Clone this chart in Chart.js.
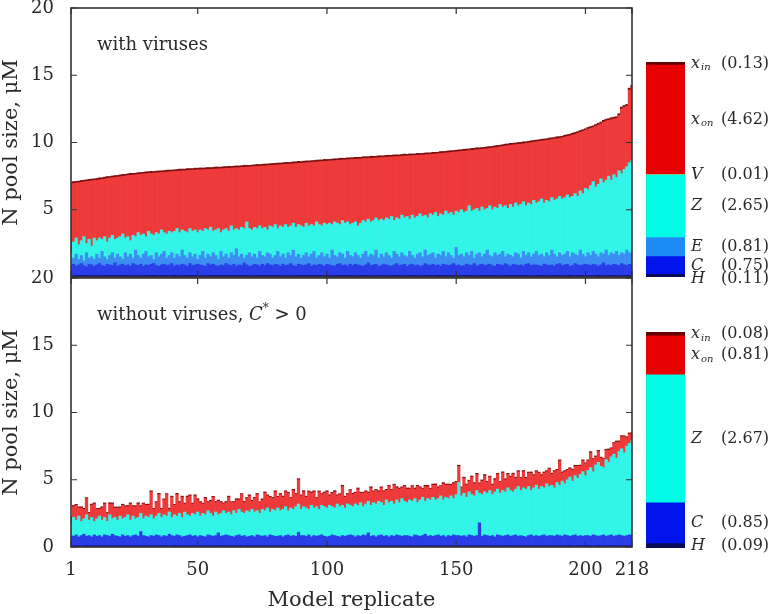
<!DOCTYPE html>
<html>
<head>
<meta charset="utf-8">
<script src="https://cdn.jsdelivr.net/npm/chart.js@4.4.1/dist/chart.umd.min.js"></script>
<style>
  body { margin: 0; background: #fff; }
  #fig { position: relative; width: 772px; height: 614px; }
  canvas { position: absolute; }
</style>
</head>
<body>
<div id="fig">
  <canvas id="topChart" width="650" height="290" style="left:0;top:0"></canvas>
  <canvas id="botChart" width="650" height="344" style="left:0;top:270px"></canvas>
  <canvas id="topKey" width="142" height="250" style="left:630px;top:40px"></canvas>
  <canvas id="botKey" width="142" height="270" style="left:630px;top:300px"></canvas>
</div>
<script>
// replicates 1..218, sorted by total N in the "with viruses" run
const reps = Array.from({ length: 218 }, (_, i) => i + 1);
const xTickVals = [1, 50, 100, 150, 200, 218];

// ---- with viruses: level (top edge) of each layer, in uM ----
const topH = [
  .11,.10,.12,.11,.10,.11,.12,.10,.11,.11, .12,.11,.10,.11,.12,.11,.10,.12,.11,.10,
  .11,.12,.11,.10,.11,.12,.11,.10,.11,.12, .10,.11,.12,.11,.10,.11,.11,.12,.10,.11,
  .12,.10,.11,.11,.12,.10,.11,.12,.11,.10, .11,.11,.10,.12,.11,.10,.12,.11,.11,.12,
  .10,.12,.11,.11,.10,.12,.11,.10,.12,.11, .11,.10,.12,.10,.11,.11,.12,.11,.10,.11,
  .12,.11,.11,.10,.12,.11,.10,.11,.12,.10, .11,.12,.10,.11,.11,.10,.12,.11,.10,.12,
  .10,.11,.11,.12,.10,.11,.11,.10,.12,.11, .11,.10,.12,.11,.11,.12,.10,.11,.11,.10,
  .12,.11,.10,.11,.12,.10,.11,.12,.10,.11, .11,.12,.11,.10,.11,.11,.10,.12,.11,.12,
  .10,.11,.12,.11,.10,.12,.11,.11,.10,.11, .11,.10,.11,.12,.11,.10,.12,.10,.11,.12,
  .12,.11,.10,.11,.12,.11,.11,.10,.12,.11, .11,.12,.11,.10,.11,.12,.10,.11,.11,.10,
  .10,.11,.12,.11,.10,.11,.12,.11,.10,.12, .11,.10,.11,.12,.11,.10,.11,.12,.11,.11,
  .12,.11,.10,.11,.12,.11,.10,.11,.12,.11, .11,.12,.11,.10,.11,.12,.11,.12
];
const topC = [
  .85,.95,.80,.90,1.0,.85,.75,.95,.90,.80, .90,1.0,.85,.80,.95,.90,.85,1.05,.80,.90,
  .95,.85,.90,.80,1.0,.90,.85,.95,.80,.90, .85,.95,1.0,.85,.80,.90,.95,.85,.90,1.0,
  .80,.90,.85,.95,.90,.80,1.0,.85,.90,.95, .90,.85,.80,1.0,.90,.95,.85,.80,.90,.85,
  1.0,.90,.85,.95,.80,.90,.85,1.05,.90,.80, .85,.95,.90,.80,.95,.85,1.0,.90,.85,.95,
  .90,.80,.95,.85,.90,1.0,.85,.80,.95,.90, .85,.90,1.0,.80,.90,.85,.95,.90,.80,.95,
  .90,.85,.80,.95,1.0,.85,.90,.80,.95,.85, .95,.90,.85,.80,.90,1.05,.85,.90,.95,.80,
  .85,.95,.90,.85,.80,.90,1.0,.85,.90,.95, .80,.90,.95,.85,.90,.80,.85,1.0,.90,.85,
  .95,.85,.90,.80,.95,.90,.85,.90,1.0,.85, .90,.80,.85,.95,.90,.85,1.0,.80,.90,.95,
  .85,.90,.95,.85,.80,.95,.90,.85,1.0,.90, .80,.95,.90,.85,.90,.80,.95,1.0,.85,.90,
  .90,.85,.80,.95,.90,.85,.90,.80,.95,1.0, .85,.90,.95,.80,.85,1.0,.90,.85,.90,.95,
  .90,.85,.95,.90,.80,.90,1.05,.85,.90,.85, .95,.90,.85,1.0,.90,.85,.95,.90
];
const topE = [
  1.1,1.4,1.7,1.3,1.6,1.2,1.8,1.4,1.5,1.3, 1.7,1.4,1.9,1.5,1.3,1.6,1.8,1.4,1.7,1.5,
  1.3,1.8,1.5,1.7,1.4,2.0,1.6,1.4,1.7,1.9, 1.5,1.6,1.3,1.8,1.5,1.7,1.9,1.4,1.6,1.8,
  1.4,1.7,1.5,2.0,1.6,1.4,1.8,1.5,1.7,1.3, 1.6,1.9,1.4,1.7,1.5,1.8,1.6,1.3,1.9,1.5,
  1.7,1.4,1.8,1.6,2.1,1.5,1.7,1.4,1.6,1.8, 1.5,1.7,1.4,1.9,1.6,1.5,1.8,1.7,1.4,1.6,
  1.9,1.5,1.7,1.4,1.8,1.6,2.0,1.5,1.7,1.4, 1.6,1.8,1.5,1.7,1.9,1.4,1.6,1.8,1.5,1.7,
  1.4,2.0,1.6,1.5,1.8,1.7,1.4,1.9,1.6,1.5, 1.8,1.6,1.4,1.7,1.9,1.5,1.7,1.6,2.0,1.4,
  1.7,1.5,1.8,1.6,1.4,1.9,1.7,1.5,1.8,1.6, 1.5,1.9,1.6,1.4,1.7,1.8,1.5,2.0,1.6,1.7,
  1.8,1.4,1.7,1.6,1.9,1.5,1.8,1.6,1.4,2.2, 1.6,1.7,1.5,1.8,1.6,1.9,1.4,1.7,1.8,1.5,
  1.7,2.0,1.6,1.5,1.8,1.6,1.7,1.9,1.5,1.7, 1.6,1.5,1.8,1.7,1.4,1.9,1.6,1.8,1.5,1.7,
  1.9,1.6,1.7,1.5,1.8,1.6,2.0,1.7,1.5,1.8, 1.6,1.7,1.9,1.5,1.8,1.7,1.6,2.0,1.7,1.5,
  1.8,1.6,1.9,1.7,1.5,1.8,1.7,2.0,1.6,1.8, 1.7,1.9,1.6,1.8,1.7,2.0,1.8,1.7
];
const topZ = [
  1.8,2.6,2.9,2.4,2.7,3.0,2.5,2.8,2.3,2.9, 2.7,2.9,2.8,3.0,2.6,2.9,3.1,2.8,2.9,3.0,
  3.2,2.9,3.0,2.7,3.1,3.0,3.3,3.1,3.2,3.0, 3.4,3.2,3.1,3.3,3.2,3.5,3.3,3.2,3.4,3.3,
  3.4,3.6,3.3,3.5,3.4,3.3,3.6,3.4,3.5,3.3, 3.5,3.4,3.6,3.5,3.7,3.4,3.5,3.6,3.3,3.5,
  3.6,3.4,3.8,3.5,3.6,3.5,3.7,3.6,4.1,3.6, 3.5,3.7,3.6,3.8,3.6,3.7,3.5,3.8,3.7,3.9,
  3.6,3.8,3.7,3.9,3.7,3.8,4.0,3.7,3.9,3.8, 3.7,4.0,3.8,3.9,3.8,4.1,3.9,3.8,4.0,3.9,
  4.0,3.9,4.1,4.0,3.9,4.2,4.0,4.1,3.9,4.0, 4.1,3.8,4.0,4.2,4.1,4.3,4.1,4.2,4.4,4.2,
  4.3,4.2,4.4,4.3,4.5,4.2,4.4,4.3,4.6,4.4, 4.5,4.3,4.6,4.4,4.5,4.7,4.5,4.6,4.4,4.7,
  4.6,4.8,4.5,4.7,4.6,4.9,4.7,4.8,4.6,4.9, 4.8,5.0,4.8,4.9,5.3,4.9,5.0,5.1,4.9,5.2,
  5.0,5.1,5.3,5.0,5.2,5.1,5.4,5.2,5.3,5.1, 5.4,5.2,5.5,5.3,5.4,5.6,5.3,5.5,5.4,5.7,
  5.5,5.6,5.8,5.5,5.7,5.6,5.9,5.7,5.8,6.0, 5.8,5.9,6.1,5.9,6.0,6.2,6.0,6.4,6.2,6.6,
  6.5,6.8,7.1,6.7,6.9,7.3,7.0,7.2,7.5,7.2, 7.6,7.4,7.9,7.7,8.0,8.2,8.5,8.7
];
const topXon = [
  6.85,6.95,6.98,7.01,7.04,7.07,7.1,7.12,7.15,7.18, 7.2,7.23,7.26,7.29,7.32,7.35,7.38,7.4,7.43,7.46,
  7.48,7.51,7.54,7.56,7.58,7.6,7.62,7.64,7.66,7.68, 7.7,7.71,7.72,7.74,7.75,7.77,7.78,7.8,7.82,7.83,
  7.85,7.86,7.88,7.89,7.9,7.91,7.93,7.94,7.95,7.96, 7.97,7.98,7.99,8.0,8.01,8.02,8.03,8.04,8.05,8.06,
  8.08,8.09,8.1,8.11,8.12,8.13,8.15,8.16,8.17,8.18, 8.2,8.21,8.22,8.24,8.25,8.26,8.28,8.29,8.3,8.32,
  8.33,8.35,8.36,8.38,8.39,8.4,8.42,8.43,8.45,8.46, 8.48,8.49,8.51,8.52,8.54,8.55,8.57,8.58,8.6,8.61,
  8.62,8.64,8.65,8.67,8.68,8.7,8.71,8.72,8.73,8.75, 8.76,8.77,8.78,8.8,8.81,8.82,8.83,8.84,8.86,8.87,
  8.88,8.89,8.9,8.92,8.93,8.94,8.95,8.96,8.98,8.99, 9.0,9.01,9.02,9.03,9.05,9.06,9.07,9.08,9.1,9.11,
  9.13,9.14,9.16,9.18,9.2,9.22,9.24,9.26,9.28,9.3, 9.32,9.34,9.36,9.38,9.4,9.42,9.44,9.46,9.48,9.5,
  9.52,9.54,9.56,9.59,9.62,9.65,9.68,9.71,9.74,9.77, 9.8,9.82,9.84,9.86,9.88,9.9,9.93,9.96,9.99,10.02,
  10.05,10.08,10.1,10.13,10.16,10.19,10.22,10.25,10.28,10.31, 10.35,10.4,10.45,10.5,10.55,10.62,10.68,10.75,10.82,10.9,
  10.98,11.05,11.12,11.2,11.3,11.4,11.5,11.6,11.65,11.7, 11.75,11.8,12.0,12.5,12.6,12.7,13.9,14.1
];
// x_in: thickness stacked on top of x_on
const topXin = [
  .15,.14,.13,.12,.14,.13,.12,.14,.13,.12, .13,.14,.12,.13,.15,.12,.13,.14,.12,.13,
  .14,.12,.13,.15,.13,.12,.14,.13,.12,.14, .13,.15,.12,.13,.14,.12,.13,.14,.13,.12,
  .12,.13,.14,.13,.12,.15,.13,.12,.14,.13, .14,.12,.13,.14,.12,.13,.15,.13,.12,.14,
  .13,.14,.12,.13,.14,.13,.12,.15,.13,.12, .12,.13,.15,.12,.13,.14,.12,.13,.14,.13,
  .14,.12,.13,.14,.13,.12,.14,.13,.15,.12, .13,.14,.12,.13,.12,.14,.13,.12,.14,.13,
  .12,.13,.14,.12,.15,.13,.12,.14,.13,.12, .14,.13,.12,.14,.13,.12,.15,.13,.12,.14,
  .13,.12,.14,.13,.12,.14,.13,.12,.13,.15, .12,.14,.13,.12,.14,.13,.12,.14,.13,.12,
  .14,.13,.12,.15,.13,.12,.14,.13,.12,.13, .13,.12,.14,.13,.12,.14,.13,.15,.12,.13,
  .12,.14,.13,.12,.14,.13,.12,.13,.14,.12, .14,.13,.12,.14,.13,.15,.12,.13,.14,.13,
  .13,.12,.14,.13,.12,.14,.13,.12,.15,.13, .12,.14,.13,.12,.14,.13,.12,.14,.13,.12,
  .14,.13,.12,.14,.13,.12,.15,.13,.12,.14, .13,.12,.14,.13,.15,.13,.14,.15
];

// ---- without viruses, C* > 0 ----
const botH = [
  .09,.08,.10,.09,.08,.09,.10,.09,.08,.09, .10,.09,.08,.09,.10,.09,.08,.10,.09,.08,
  .09,.10,.09,.08,.09,.10,.09,.08,.09,.10, .08,.09,.10,.09,.08,.09,.09,.10,.08,.09,
  .10,.08,.09,.09,.10,.08,.09,.10,.09,.08, .09,.09,.08,.10,.09,.08,.10,.09,.09,.10,
  .08,.10,.09,.09,.08,.10,.09,.08,.10,.09, .09,.08,.10,.08,.09,.09,.10,.09,.08,.09,
  .10,.09,.09,.08,.10,.09,.08,.09,.10,.08, .09,.10,.08,.09,.09,.08,.10,.09,.08,.10,
  .08,.09,.09,.10,.08,.09,.09,.08,.10,.09, .09,.08,.10,.09,.09,.10,.08,.09,.09,.08,
  .10,.09,.08,.09,.10,.08,.09,.10,.08,.09, .09,.10,.09,.08,.09,.09,.08,.10,.09,.10,
  .08,.09,.10,.09,.08,.10,.09,.09,.08,.09, .09,.08,.09,.10,.09,.08,.10,.08,.09,.10,
  .10,.09,.08,.09,.10,.09,.09,.08,.10,.09, .09,.10,.09,.08,.09,.10,.08,.09,.09,.08,
  .08,.09,.10,.09,.08,.09,.10,.09,.08,.10, .09,.08,.09,.10,.09,.08,.09,.10,.09,.09,
  .10,.09,.08,.09,.10,.09,.08,.09,.10,.09, .09,.10,.09,.08,.09,.10,.09,.10
];
const botC = [
  .85,.80,.90,.75,.85,.95,.80,.85,.75,.90, .80,.85,.75,.90,.85,.80,.95,.85,.80,.75,
  .90,.80,.85,.75,.85,.90,.80,1.15,.85,.80, .75,.85,.80,.90,.85,.75,.85,.80,.95,.85,
  .80,.90,.85,.75,.80,.85,.90,.80,.85,.75, .85,.80,.75,.90,.85,.80,.85,1.05,.80,.85,
  .90,.85,.80,.75,.85,.90,.80,.85,.75,.80, .85,.75,.90,.85,.80,.85,.75,.90,.85,.80,
  .80,.85,.75,.85,.90,.80,.85,.80,1.1,.85, .85,.80,.90,.75,.85,.80,.85,.90,.80,.75,
  .80,.90,.85,.80,.75,.85,.80,.85,.90,.85, .75,.85,.80,.90,.85,1.05,.80,.85,.75,.85,
  .90,.80,.85,.75,.85,.80,.90,.85,.80,.85, .85,.80,.75,.90,.85,.80,.85,.95,.80,.85,
  .80,.85,.90,.80,.85,.75,.85,.80,.90,.85, .85,.80,.85,.75,.90,.85,.80,.85,1.8,.80,
  .90,.85,.80,.85,.75,.90,.85,.80,.85,.90, .80,.85,.90,.80,.85,.80,.75,.85,.90,.80,
  .85,.80,.85,.90,.80,.85,.85,.80,.90,.85, .80,.90,.85,.80,.85,.90,.80,.85,.80,.85,
  .85,.80,.90,.85,.80,.85,.90,.80,.85,.90, .80,.85,.90,.85,.80,.85,.90,.85
];
const botZ = [
  1.8,2.2,2.0,2.3,1.9,2.1,2.4,2.0,2.2,1.9, 2.1,2.3,2.0,2.2,1.9,2.4,2.1,2.2,2.0,2.3,
  2.1,2.2,2.4,2.0,2.3,2.1,2.2,2.5,2.1,2.3, 2.2,2.4,2.1,2.3,2.5,2.2,2.4,2.3,2.6,2.2,
  2.4,2.3,2.5,2.2,2.6,2.4,2.3,2.5,2.4,2.6, 2.3,2.5,2.4,2.7,2.5,2.3,2.6,2.4,2.5,2.7,
  2.5,2.6,2.4,2.7,2.5,2.8,2.6,2.5,2.7,2.6, 2.8,2.6,2.7,2.5,2.8,2.7,2.9,2.6,2.8,2.7,
  2.9,2.7,2.8,3.0,2.7,2.9,2.8,3.0,3.2,2.8, 3.0,2.9,2.8,3.1,2.9,3.0,2.8,3.1,3.0,2.9,
  3.1,3.0,2.9,3.2,3.0,3.1,2.9,3.2,3.1,3.0, 3.2,3.1,3.3,3.0,3.2,3.4,3.1,3.3,3.2,3.4,
  3.3,3.1,3.5,3.3,3.4,3.2,3.5,3.3,3.6,3.4, 3.3,3.5,3.4,3.6,3.3,3.5,3.7,3.4,3.6,3.5,
  3.7,3.5,3.6,3.8,3.5,3.7,3.6,3.8,3.6,3.9, 4.8,3.8,4.0,3.7,4.1,3.9,3.8,4.2,4.0,3.9,
  4.1,4.0,4.2,3.9,4.1,4.3,4.0,4.2,4.1,4.4, 4.2,4.1,4.3,4.5,4.2,4.4,4.3,4.5,4.2,4.4,
  4.6,4.3,4.5,4.4,4.7,4.5,4.6,4.4,4.8,4.6, 4.9,4.7,5.0,5.2,4.9,5.3,5.1,5.4,5.6,5.3,
  5.7,5.9,5.6,6.1,6.3,6.0,5.9,6.5,6.3,6.7, 6.9,6.6,7.1,7.3,7.0,7.5,7.7,7.9
];
const botXon = [
  2.2,3.0,3.1,2.9,2.9,2.8,3.6,2.5,3.1,3.2, 2.8,2.8,2.9,3.2,2.5,3.2,3.2,2.9,2.9,2.9,
  3.1,3.0,3.0,3.2,3.0,3.0,3.2,3.0,3.2,3.1, 3.1,4.1,2.8,3.3,3.9,2.8,3.5,3.9,2.8,3.7,
  3.1,3.9,3.3,3.7,3.2,3.7,3.8,3.2,3.8,3.5, 3.3,3.2,3.6,3.3,3.4,3.7,3.3,3.4,3.3,3.2,
  3.3,3.7,3.3,3.3,3.5,3.5,3.9,3.3,3.6,3.8, 3.4,3.6,3.9,3.3,3.5,4.0,3.8,3.7,3.6,4.1,
  3.7,3.9,3.7,4.1,4.0,3.6,4.2,3.9,5.0,3.8, 4.1,3.7,4.1,4.0,4.1,3.6,4.1,3.9,4.0,4.1,
  3.8,4.0,4.1,3.8,3.9,4.5,3.7,3.9,4.2,3.9, 4.0,4.3,4.0,4.0,4.1,4.0,4.4,4.1,4.2,4.1,
  4.4,4.1,4.2,4.5,4.2,4.6,4.4,4.3,4.4,4.5, 4.3,4.3,4.5,4.3,4.5,4.4,4.3,4.5,4.5,4.3,
  4.6,4.6,4.4,4.5,4.7,4.6,4.6,4.6,4.7,4.8, 6.0,4.4,5.1,4.6,4.9,5.2,4.7,5.4,4.7,4.9,
  5.3,4.8,5.2,4.6,5.0,5.4,4.8,5.5,5.0,5.4, 5.2,5.4,5.1,5.6,5.1,5.6,5.1,5.5,5.5,5.3,
  5.6,5.5,5.3,5.5,5.6,5.8,5.4,5.6,5.7,6.4, 5.5,5.6,5.7,5.8,5.7,6.0,6.0,6.0,6.4,6.2,
  6.4,7.0,6.5,6.7,7.1,6.6,6.5,7.2,7.2,7.3, 7.7,7.8,7.8,8.2,8.2,8.1,8.4,8.4
];
const botXin = [
  .08,.09,.07,.08,.09,.08,.07,.08,.09,.08, .07,.08,.09,.08,.07,.09,.08,.08,.07,.09,
  .08,.07,.09,.08,.08,.07,.09,.08,.07,.08, .09,.08,.07,.08,.09,.08,.08,.07,.09,.08,
  .07,.09,.08,.08,.07,.09,.08,.07,.08,.09, .08,.07,.09,.08,.08,.07,.08,.09,.08,.07,
  .09,.08,.07,.08,.09,.08,.07,.09,.08,.08, .08,.09,.08,.07,.08,.09,.08,.07,.09,.08,
  .07,.08,.09,.08,.07,.08,.09,.08,.08,.07, .09,.08,.07,.09,.08,.08,.07,.08,.09,.08,
  .08,.07,.09,.08,.07,.09,.08,.08,.07,.09, .08,.09,.08,.07,.08,.09,.08,.07,.08,.09,
  .07,.08,.09,.08,.08,.07,.09,.08,.07,.08, .09,.08,.07,.09,.08,.08,.07,.09,.08,.07,
  .08,.09,.08,.07,.09,.08,.08,.07,.09,.08, .08,.07,.09,.08,.07,.08,.09,.08,.07,.09,
  .09,.08,.07,.08,.09,.08,.07,.09,.08,.08, .07,.09,.08,.08,.07,.09,.08,.07,.08,.09,
  .08,.07,.09,.08,.08,.07,.09,.08,.07,.08, .09,.08,.07,.09,.08,.08,.07,.09,.08,.07,
  .08,.09,.08,.07,.09,.08,.08,.07,.09,.08, .07,.08,.09,.08,.07,.09,.08,.08
];

// ---- side keys: mean pool sizes (uM), bottom to top ----
const topKeyNames = ['H', 'C', 'E', 'Z', 'V', 'x', 'x'];
const topKeySubs = ['', '', '', '', '', 'on', 'in'];
const topKeyMeans = [0.11, 0.75, 0.81, 2.65, 0.01, 4.62, 0.13];
const botKeyNames = ['H', 'C', 'Z', 'x', 'x'];
const botKeySubs = ['', '', '', 'on', 'in'];
const botKeyMeans = [0.09, 0.85, 2.67, 0.81, 0.08];

Chart.defaults.font.family = "'DejaVu Serif', serif";
Chart.defaults.color = '#2a2a2a';

// box round the plot area, inward ticks and the panel caption
const frame = {
  id: 'frame',
  afterDatasetsDraw(chart, args, o) {
    const { ctx, chartArea: a, scales: { x, y } } = chart;
    ctx.save();
    ctx.strokeStyle = '#333';
    ctx.lineWidth = 1.2;
    ctx.beginPath();
    xTickVals.forEach(v => {
      const px = x.getPixelForValue(v);
      ctx.moveTo(px, a.top); ctx.lineTo(px, a.top + 6);
      ctx.moveTo(px, a.bottom); ctx.lineTo(px, a.bottom - 6);
    });
    y.ticks.forEach(t => {
      const py = y.getPixelForValue(t.value);
      ctx.moveTo(a.left, py); ctx.lineTo(a.left + 6, py);
      ctx.moveTo(a.right, py); ctx.lineTo(a.right - 6, py);
    });
    ctx.stroke();
    ctx.lineWidth = 1.6;
    ctx.strokeRect(a.left, a.top, a.right - a.left, a.bottom - a.top);

    let cx = a.left + 26;
    const cy = a.top + 37;
    ctx.fillStyle = '#2a2a2a';
    ctx.textBaseline = 'middle';
    o.caption.forEach(([txt, style]) => {
      let dy = 0;
      if (style === 'italic') ctx.font = "italic 18px 'DejaVu Serif'";
      else if (style === 'sup') { ctx.font = "12px 'DejaVu Serif'"; dy = -6; }
      else ctx.font = "18px 'DejaVu Serif'";
      ctx.fillText(txt, cx, cy + dy);
      cx += ctx.measureText(txt).width;
    });
    ctx.restore();
  }
};

// keep tick labels from pushing the plot area in
function noOverflow(s) {
  s.paddingTop = 0; s.paddingBottom = 0; s.paddingLeft = 0; s.paddingRight = 0;
}

function drawPanel(id, layers, showX, hideZero, caption) {
  new Chart(document.getElementById(id), {
    type: 'bar',
    data: {
      labels: reps,
      datasets: layers.map(l => ({
        label: l.name, data: l.data, backgroundColor: l.color,
        stack: l.stack, order: l.order, grouped: false,
        barPercentage: 1, categoryPercentage: 1, borderWidth: 0, clip: 0
      }))
    },
    options: {
      responsive: false, animation: false, events: [],
      layout: { autoPadding: false, padding: { top: 8, right: 18, bottom: showX ? 0 : 13, left: 0 } },
      plugins: { legend: { display: false }, tooltip: { enabled: false }, frame: { caption } },
      scales: {
        x: {
          type: 'linear', min: 1, max: 218, offset: false, display: showX,
          grid: { display: false }, border: { display: false },
          afterBuildTicks: s => { s.ticks = xTickVals.map(v => ({ value: v })); },
          afterFit: s => { noOverflow(s); if (showX) s.height = 67; },
          ticks: { padding: 5, font: { size: 18 }, autoSkip: false, maxRotation: 0 },
          title: { display: true, text: 'Model replicate', font: { size: 21, lineHeight: 1.1 }, padding: { top: 0, bottom: 2 } }
        },
        y: {
          stacked: true, min: 0, max: 20,
          grid: { display: false }, border: { display: false },
          afterFit: s => { noOverflow(s); s.width = 71; },
          ticks: { stepSize: 5, padding: 9, font: { size: 18 }, callback: v => (hideZero && v === 0) ? '' : v },
          title: { display: true, text: 'N pool size, μM', font: { size: 21, lineHeight: 1.1 }, padding: { top: 0, bottom: 0 } }
        }
      }
    },
    plugins: [frame]
  });
}

const red = 'rgb(238,58,58)', darkRed = 'rgb(125,15,15)', cyan = 'rgb(50,245,232)';
const lightBlue = 'rgb(60,142,242)', blue = 'rgb(42,62,232)', navy = 'rgb(20,20,140)';

drawPanel('topChart', [
  { name: 'H', data: topH, color: navy, stack: 'h', order: 1 },
  { name: 'C', data: topC, color: blue, stack: 'c', order: 2 },
  { name: 'E', data: topE, color: lightBlue, stack: 'e', order: 3 },
  { name: 'Z', data: topZ, color: cyan, stack: 'z', order: 4 },
  { name: 'x_on', data: topXon, color: red, stack: 'x', order: 5 },
  { name: 'x_in', data: topXin, color: darkRed, stack: 'x', order: 5 }
], false, true, [['with viruses', '']]);

drawPanel('botChart', [
  { name: 'H', data: botH, color: navy, stack: 'h', order: 1 },
  { name: 'C', data: botC, color: blue, stack: 'c', order: 2 },
  { name: 'Z', data: botZ, color: cyan, stack: 'z', order: 4 },
  { name: 'x_on', data: botXon, color: red, stack: 'x', order: 5 },
  { name: 'x_in', data: botXin, color: darkRed, stack: 'x', order: 5 }
], true, false, [['without viruses, ', ''], ['C', 'italic'], ['*', 'sup'], [' > 0', '']]);

// labels beside the key bar, pushed apart when they crowd
const keyLabels = {
  id: 'keyLabels',
  afterDatasetsDraw(chart, args, o) {
    const { ctx, chartArea: a, scales: { y } } = chart;
    let cum = 0;
    const ys = o.means.map(v => { const c = y.getPixelForValue(cum + v / 2); cum += v; return c; });
    for (let i = ys.length - 2; i >= 0; i--) ys[i] = Math.max(ys[i], ys[i + 1] + 13);
    ctx.save();
    ctx.fillStyle = '#2a2a2a';
    ctx.textBaseline = 'middle';
    o.names.forEach((n, i) => {
      const x0 = a.right + 6;
      ctx.font = "italic 16px 'DejaVu Serif'";
      ctx.fillText(n, x0, ys[i]);
      if (o.subs[i]) {
        const w = ctx.measureText(n).width;
        ctx.font = "italic 10px 'DejaVu Serif'";
        ctx.fillText(o.subs[i], x0 + w + 1, ys[i] + 4);
      }
      ctx.font = "16px 'DejaVu Serif'";
      ctx.fillText('(' + o.means[i].toFixed(2) + ')', a.right + 36, ys[i]);
    });
    ctx.restore();
  }
};

function drawKey(id, names, subs, means, colors, pad) {
  new Chart(document.getElementById(id), {
    type: 'bar',
    data: {
      labels: [''],
      datasets: means.map((v, i) => ({ label: names[i] + subs[i], data: [v], backgroundColor: colors[i], barPercentage: 1, categoryPercentage: 1, borderWidth: 0 }))
    },
    options: {
      responsive: false, animation: false, events: [],
      layout: { autoPadding: false, padding: pad },
      plugins: { legend: { display: false }, tooltip: { enabled: false }, keyLabels: { names, subs, means } },
      scales: {
        x: { display: false, stacked: true },
        y: { display: false, stacked: true, min: 0, max: means.reduce((s, v) => s + v, 0) }
      }
    },
    plugins: [keyLabels]
  });
}

drawKey('topKey', topKeyNames, topKeySubs, topKeyMeans,
  ['rgb(10,10,90)', 'rgb(0,20,235)', 'rgb(30,140,245)', 'rgb(0,252,230)', 'rgb(255,170,0)', 'rgb(232,0,0)', 'rgb(100,0,0)'],
  { top: 22, bottom: 13, left: 16, right: 87 });
drawKey('botKey', botKeyNames, botKeySubs, botKeyMeans,
  ['rgb(10,10,90)', 'rgb(0,20,235)', 'rgb(0,252,230)', 'rgb(232,0,0)', 'rgb(100,0,0)'],
  { top: 32, bottom: 22, left: 16, right: 87 });
</script>
</body>
</html>
